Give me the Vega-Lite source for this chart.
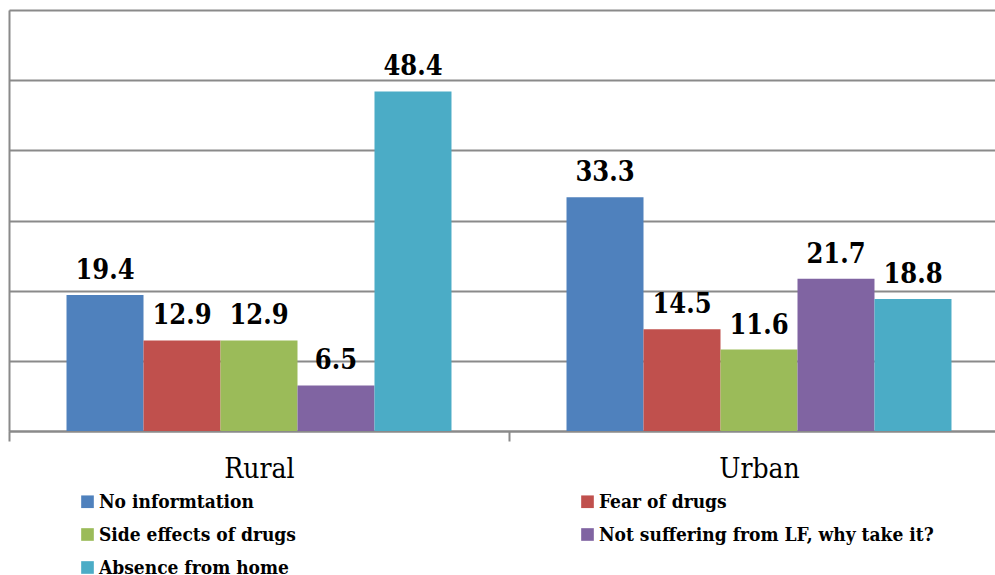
{
  "$schema": "https://vega.github.io/schema/vega-lite/v6.json",
  "autosize": "none",
  "width": 986,
  "height": 421,
  "padding": {"left": 9, "top": 10, "right": 0, "bottom": 144},
  "background": "white",
  "data": {
    "values": [
      {"area": "Rural", "reason": "No informtation", "value": 19.4},
      {"area": "Rural", "reason": "Fear of drugs", "value": 12.9},
      {"area": "Rural", "reason": "Side effects of drugs", "value": 12.9},
      {"area": "Rural", "reason": "Not suffering from LF, why take it?", "value": 6.5},
      {"area": "Rural", "reason": "Absence from home", "value": 48.4},
      {"area": "Urban", "reason": "No informtation", "value": 33.3},
      {"area": "Urban", "reason": "Fear of drugs", "value": 14.5},
      {"area": "Urban", "reason": "Side effects of drugs", "value": 11.6},
      {"area": "Urban", "reason": "Not suffering from LF, why take it?", "value": 21.7},
      {"area": "Urban", "reason": "Absence from home", "value": 18.8}
    ]
  },
  "encoding": {
    "x": {
      "field": "area", "type": "nominal",
      "scale": {"range": [0, 1000], "paddingInner": 0, "paddingOuter": 0},
      "axis": {
        "title": null, "labelAngle": 0, "tickBand": "extent",
        "domainColor": "#8a8a8a", "domainWidth": 2,
        "tickColor": "#8a8a8a", "tickWidth": 2, "tickSize": 10,
        "labelFont": "DejaVu Serif Condensed", "labelFontSize": 28, "labelColor": "#000000",
        "labelPadding": 14, "labelBaseline": "top"
      }
    },
    "xOffset": {
      "field": "reason", "type": "nominal",
      "sort": ["No informtation", "Fear of drugs", "Side effects of drugs", "Not suffering from LF, why take it?", "Absence from home"],
      "scale": {"paddingInner": 0, "paddingOuter": 0.747}
    },
    "y": {
      "field": "value", "type": "quantitative",
      "scale": {"domain": [0, 60], "nice": false},
      "axis": {
        "title": null, "labels": false, "ticks": false,
        "values": [0, 10, 20, 30, 40, 50, 60],
        "domain": true, "domainColor": "#8a8a8a", "domainWidth": 2,
        "grid": true, "gridColor": "#8a8a8a", "gridWidth": 2
      }
    }
  },
  "layer": [
    {
      "mark": {"type": "bar"},
      "encoding": {
        "color": {
          "field": "reason", "type": "nominal",
          "sort": ["No informtation", "Fear of drugs", "Side effects of drugs", "Not suffering from LF, why take it?", "Absence from home"],
          "scale": {
            "domain": ["No informtation", "Fear of drugs", "Side effects of drugs", "Not suffering from LF, why take it?", "Absence from home"],
            "range": ["#4F81BD", "#C0504D", "#9BBB59", "#8064A2", "#4BACC6"]
          },
          "legend": {
            "title": null, "orient": "none", "legendX": 69, "legendY": 482,
            "direction": "horizontal", "columns": 2, "columnPadding": 282, "rowPadding": 13,
            "symbolType": "square", "symbolSize": 160, "symbolStrokeWidth": 0,
            "labelFont": "DejaVu Serif Condensed", "labelFontSize": 19, "labelFontWeight": "bold",
            "labelColor": "#000000", "labelOffset": 2, "labelLimit": 500
          }
        }
      }
    },
    {
      "mark": {"type": "text", "baseline": "alphabetic", "dy": -16, "font": "DejaVu Serif Condensed", "fontSize": 27, "fontWeight": "bold", "color": "#000000"},
      "encoding": {
        "text": {"field": "value", "type": "quantitative", "format": ".1f"}
      }
    }
  ]
}
